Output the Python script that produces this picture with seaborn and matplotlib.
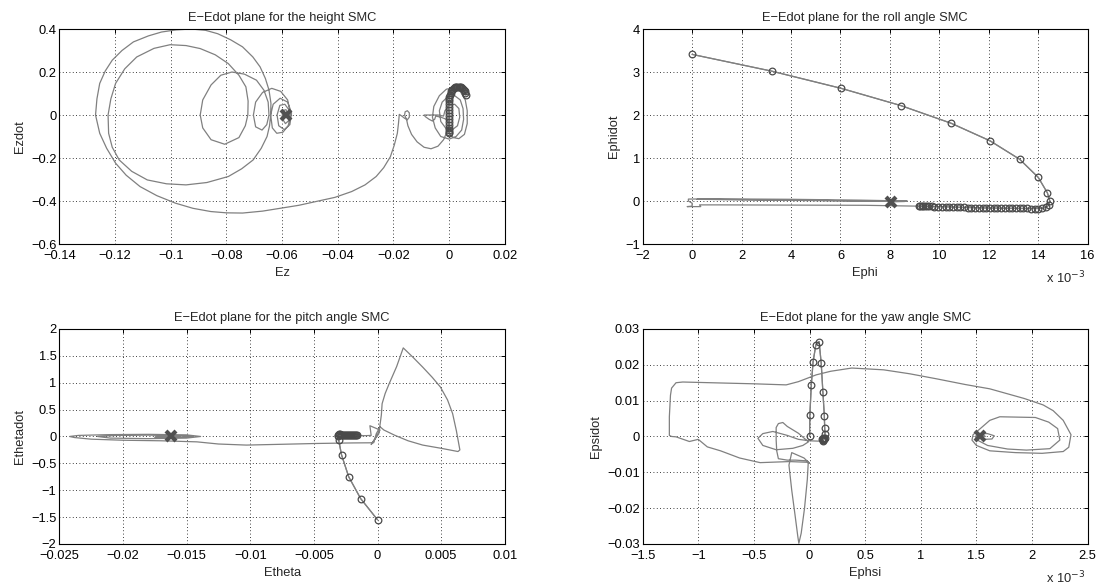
import matplotlib
matplotlib.use("Agg")
import matplotlib.pyplot as plt
import seaborn as sns

# ---------------- height SMC (Ez, Ezdot) ----------------
z_mark_e = [0.0060, 0.0058, 0.0056, 0.0053, 0.0050, 0.0046, 0.0042, 0.0038, 0.0034, 0.0030,
            0.0026, 0.0022, 0.0018, 0.0014, 0.0011, 0.0008, 0.0005, 0.0003, 0.0001, 0.0,
            -0.0001, -0.0002, -0.0002, -0.0001, 0.0, 0.0, 0.0, 0.0, 0.0, 0.0, 0.0, 0.0, 0.0]
z_mark_edot = [0.095, 0.103, 0.110, 0.116, 0.121, 0.125, 0.128, 0.130, 0.131, 0.131,
               0.130, 0.128, 0.125, 0.121, 0.116, 0.110, 0.103, 0.095, 0.086, 0.076,
               0.064, 0.050, 0.036, 0.022, 0.008, -0.006, -0.020, -0.034, -0.047, -0.059,
               -0.069, -0.078, -0.085]
z_e = [0.0015, 0.0035, 0.0055, 0.0065, 0.0065, 0.0058, 0.0040, 0.0015, -0.0010, -0.0035,
       -0.0055, -0.0060, -0.0050, -0.0030, 0.0, 0.0025, 0.0045, 0.0052, 0.0050, 0.0040,
       0.0020, -0.0005, -0.0025, -0.0035, -0.0030, -0.0010, 0.0010, 0.0030, 0.0038, 0.0035,
       0.0020, 0.0, -0.0015, -0.0020, -0.0040, -0.0090, -0.0085, -0.0072, -0.0060, -0.0052,
       -0.0048, -0.0030, -0.0010, 0.0, -0.0005, -0.0020, -0.0040, -0.0065, -0.0090, -0.0115,
       -0.0135, -0.0148, -0.0153, -0.0160, -0.0158, -0.0150, -0.0143, -0.0143, -0.0150, -0.0160,
       -0.0170, -0.0179,
       -0.0182, -0.0186, -0.0197, -0.0211, -0.0235, -0.0262, -0.0302, -0.0350, -0.0410, -0.0477,
       -0.0540, -0.0603, -0.0670, -0.0742, -0.0800, -0.0856, -0.0920, -0.0983, -0.1050, -0.1110,
       -0.1160, -0.1198, -0.1230, -0.1255, -0.1270, -0.1265, -0.1255, -0.1235, -0.1210, -0.1175,
       -0.1134, -0.1080, -0.1033, -0.0980, -0.0926, -0.0875, -0.0831, -0.0785, -0.0742, -0.0705,
       -0.0679, -0.0660, -0.0647, -0.0640, -0.0641, -0.0645, -0.0654, -0.0675, -0.0704, -0.0745,
       -0.0793, -0.0870, -0.0945, -0.1015, -0.1084, -0.1140, -0.1185, -0.1210, -0.1223, -0.1225,
       -0.1215, -0.1198, -0.1165, -0.1122, -0.1060, -0.1002, -0.0945, -0.0894, -0.0840, -0.0793,
       -0.0755, -0.0730, -0.0722, -0.0723, -0.0732, -0.0755, -0.0806, -0.0855, -0.0885, -0.0894,
       -0.0885, -0.0855, -0.0820, -0.0780, -0.0735, -0.0692, -0.0665, -0.0650, -0.0647, -0.0655,
       -0.0672, -0.0695, -0.0703, -0.0695, -0.0670, -0.0637, -0.0605, -0.0580, -0.0569, -0.0578,
       -0.0597, -0.0619, -0.0635, -0.0641, -0.0632, -0.0607, -0.0580, -0.0566, -0.0572, -0.0592,
       -0.0612, -0.0618, -0.0608, -0.0590, -0.0573, -0.0575, -0.0588, -0.0600, -0.0598, -0.0586,
       -0.0580, -0.0586]
z_edot = [-0.105, -0.110, -0.090, -0.040, 0.020, 0.070, 0.110, 0.126, 0.120, 0.090,
          0.040, -0.010, -0.060, -0.100, -0.112, -0.100, -0.070, -0.020, 0.030, 0.070,
          0.090, 0.085, 0.060, 0.020, -0.030, -0.065, -0.070, -0.050, -0.010, 0.030,
          0.050, 0.045, 0.020, -0.005, 0.0, 0.0, -0.008, -0.020, -0.028, -0.020,
          -0.005, -0.010, -0.020, -0.035, -0.070, -0.115, -0.145, -0.157, -0.150, -0.125,
          -0.090, -0.050, -0.020, 0.0, 0.015, 0.020, 0.010, -0.010, -0.022, -0.015,
          -0.005, 0.003,
          -0.040, -0.085, -0.140, -0.194, -0.245, -0.286, -0.325, -0.356, -0.383, -0.402,
          -0.420, -0.433, -0.447, -0.456, -0.455, -0.449, -0.434, -0.410, -0.375, -0.333,
          -0.280, -0.224, -0.155, -0.085, 0.0, 0.075, 0.147, 0.205, 0.255, 0.300,
          0.340, 0.368, 0.386, 0.396, 0.400, 0.394, 0.378, 0.350, 0.317, 0.270,
          0.224, 0.170, 0.116, 0.055, 0.0, -0.050, -0.100, -0.155, -0.209, -0.250,
          -0.286, -0.314, -0.325, -0.320, -0.302, -0.262, -0.209, -0.150, -0.085, 0.0,
          0.075, 0.147, 0.215, 0.270, 0.310, 0.327, 0.323, 0.309, 0.280, 0.239,
          0.185, 0.131, 0.065, 0.0, -0.050, -0.105, -0.136, -0.115, -0.060, 0.0,
          0.070, 0.140, 0.185, 0.200, 0.190, 0.162, 0.115, 0.060, 0.0, -0.045,
          -0.070, -0.055, 0.0, 0.060, 0.105, 0.124, 0.110, 0.070, 0.0, -0.050,
          -0.080, -0.085, -0.060, 0.0, 0.050, 0.078, 0.060, 0.010, -0.045, -0.068,
          -0.050, 0.0, 0.045, 0.050, 0.020, -0.025, -0.040, -0.015, 0.020, 0.025,
          0.005, 0.0]
z_end = (-0.0586, 0.0)
z_xticks = [-0.14, -0.12, -0.10, -0.08, -0.06, -0.04, -0.02, 0.0, 0.02]
z_xlabels = ["\u22120.14", "\u22120.12", "\u22120.1", "\u22120.08", "\u22120.06", "\u22120.04", "\u22120.02", "0", "0.02"]
z_yticks = [-0.6, -0.4, -0.2, 0.0, 0.2, 0.4]
z_ylabels = ["\u22120.6", "\u22120.4", "\u22120.2", "0", "0.2", "0.4"]

# ---------------- roll SMC (Ephi x1e-3, Ephidot) ----------------
phi_mark_e = [0.0, 3.22, 6.03, 8.44, 10.47, 12.05, 13.25, 14.0, 14.37, 14.47, 14.42, 14.30,
              14.15, 14.0, 13.85, 13.7, 13.55, 13.4, 13.25, 13.1, 12.95, 12.8, 12.65, 12.5,
              12.35, 12.2, 12.05, 11.9, 11.75, 11.6, 11.45, 11.3, 11.15, 11.0, 10.85, 10.7,
              10.55, 10.4, 10.25, 10.1, 9.95, 9.8, 9.7, 9.6, 9.5, 9.42, 9.35, 9.28, 9.22, 9.17]
phi_mark_edot = [3.41, 3.02, 2.62, 2.22, 1.81, 1.40, 0.97, 0.55, 0.19, 0.0, -0.10, -0.15,
                 -0.17, -0.175, -0.175, -0.175, -0.174, -0.173, -0.172, -0.171, -0.17, -0.169, -0.168, -0.167,
                 -0.166, -0.165, -0.164, -0.163, -0.161, -0.159, -0.157, -0.155, -0.152, -0.150, -0.147, -0.144,
                 -0.141, -0.138, -0.135, -0.132, -0.13, -0.128, -0.126, -0.125, -0.124, -0.123, -0.122, -0.121, -0.12, -0.12]
phi_e = [7.0, 4.0, 1.0, 0.3, 0.35, -0.2, 0.0, 0.0, -0.15, -0.15, 1.0, 4.0, 6.8, 8.7,
         7.0, 3.0, 0.2, 3.0, 6.8, 8.6, 8.05]
phi_edot = [-0.10, -0.095, -0.09, -0.09, -0.13, -0.13, -0.12, -0.05, 0.0, 0.045, 0.05, 0.04, 0.02, 0.0,
            0.0, 0.03, 0.04, 0.02, 0.0, -0.01, -0.02]
phi_end = (8.05, -0.02)
phi_xticks = [-2, 0, 2, 4, 6, 8, 10, 12, 14, 16]
phi_xlabels = ["\u22122", "0", "2", "4", "6", "8", "10", "12", "14", "16"]
phi_yticks = [-1, 0, 1, 2, 3, 4]
phi_ylabels = ["\u22121", "0", "1", "2", "3", "4"]

# ---------------- pitch SMC (Etheta, Ethetadot) ----------------
th_mark_e = [0.0, -0.00133, -0.00227, -0.00283, -0.00305, -0.00312, -0.00310,
             -0.00302, -0.00294, -0.00286, -0.00278, -0.00270, -0.00262, -0.00254, -0.00246,
             -0.00238, -0.00230, -0.00222, -0.00214, -0.00206, -0.00198, -0.00190, -0.00182,
             -0.00174, -0.00166, -0.00160]
th_mark_edot = [-1.55, -1.154, -0.747, -0.34, -0.068, 0.0, 0.03,
                0.04, 0.04, 0.035, 0.03, 0.03, 0.025, 0.025, 0.02,
                0.02, 0.02, 0.02, 0.02, 0.02, 0.02, 0.02, 0.02,
                0.02, 0.02, 0.02]
th_e = [-0.0010, -0.0005, -0.0006, 0.0002, -0.0001, -0.0005, -0.0002, 0.0001, 0.0003, 0.00036,
        0.0006, 0.00091, 0.0015, 0.00202, 0.0028, 0.00355, 0.0043, 0.00494, 0.0055, 0.0059,
        0.0062, 0.00647, 0.00632, 0.0050, 0.00355, 0.0024, 0.00133, 0.0005, 0.0002, -0.0001,
        -0.0003, -0.0020, -0.00477, -0.0075, -0.01031, -0.0125, -0.01419, -0.0170, -0.0200, -0.0225,
        -0.0238, -0.0242, -0.0235, -0.0210, -0.0180, -0.0150, -0.0139, -0.0150, -0.0180, -0.0210,
        -0.0220, -0.0205, -0.0180, -0.0155, -0.0145, -0.0155, -0.0175, -0.0172, -0.0160, -0.0155,
        -0.0162]
th_edot = [0.015, 0.02, 0.20, 0.12, 0.0, -0.15, -0.05, 0.05, 0.40, 0.61,
           0.80, 0.98, 1.30, 1.648, 1.47, 1.29, 1.10, 0.92, 0.68, 0.425,
           0.10, -0.25, -0.28, -0.22, -0.16, -0.08, 0.025, 0.12, 0.18, 0.05,
           -0.117, -0.12, -0.13, -0.145, -0.16, -0.14, -0.10, -0.08, -0.07, -0.05,
           -0.02, 0.0, 0.02, 0.035, 0.04, 0.03, 0.0, -0.03, -0.04, -0.03,
           0.0, 0.02, 0.025, 0.015, 0.0, -0.015, -0.015, 0.005, 0.008, 0.0,
           0.0]
th_end = (-0.0162, 0.0)
th_xticks = [-0.025, -0.02, -0.015, -0.01, -0.005, 0.0, 0.005, 0.01]
th_xlabels = ["\u22120.025", "\u22120.02", "\u22120.015", "\u22120.01", "\u22120.005", "0", "0.005", "0.01"]
th_yticks = [-2, -1.5, -1, -0.5, 0, 0.5, 1, 1.5, 2]
th_ylabels = ["\u22122", "\u22121.5", "\u22121", "\u22120.5", "0", "0.5", "1", "1.5", "2"]

# ---------------- yaw SMC (Ephsi x1e-3, Epsidot) ----------------
psi_mark_e = [0.0, 0.003, 0.016, 0.032, 0.057, 0.086, 0.105, 0.12, 0.133, 0.136, 0.139,
              0.135, 0.130, 0.125, 0.118, 0.112, 0.120, 0.128, 0.122]
psi_mark_edot = [0.0, 0.0061, 0.0144, 0.0209, 0.0256, 0.0265, 0.0204, 0.0124, 0.0058, 0.0025, 0.0006,
                 -0.0003, -0.0008, -0.0011, -0.0012, -0.0008, -0.0004, -0.0006, -0.0009]
psi_e = [0.08, 0.0, -0.10, -0.20, -0.33, -0.42, -0.464, -0.42, -0.30, -0.15,
         -0.06, -0.01, -0.10, -0.20, -0.24, -0.28, -0.30, -0.30, -0.295, -0.28,
         -0.20, -0.127, -0.02, 0.0, -0.05, -0.16, -0.185, -0.16, -0.13, -0.105,
         -0.096, -0.075, -0.045, -0.02, -0.012, -0.02, -0.18, -0.444, -0.629, -0.80,
         -0.919, -1.00, -1.08, -1.20, -1.24, -1.26, -1.26, -1.25, -1.24, -1.20,
         -1.14, -0.76, -0.50, -0.21, -0.10, 0.06, 0.19, 0.38, 0.666, 0.90,
         1.14, 1.40, 1.62, 1.93, 2.10, 2.19, 2.28, 2.35, 2.33, 2.28,
         2.09, 1.85, 1.62, 1.50, 1.46, 1.47, 1.52, 1.62, 1.71, 2.03,
         2.15, 2.23, 2.25, 2.16, 1.95, 1.78, 1.60, 1.52, 1.49, 1.52,
         1.60, 1.66, 1.64, 1.57, 1.50, 1.51, 1.56, 1.58, 1.528]
psi_edot = [-0.0013, -0.0012, -0.0008, 0.0003, 0.0014, 0.0008, -0.0005, -0.0025, -0.0037, -0.0033,
            -0.0025, -0.0015, 0.0009, 0.0028, 0.0039, 0.0036, 0.0025, -0.0010, -0.0040, -0.0062,
            -0.0066, -0.0066, -0.0068, -0.0075, -0.0060, -0.0045, -0.0080, -0.0150, -0.0220, -0.0280,
            -0.0298, -0.0270, -0.0200, -0.0120, -0.0075, -0.0072, -0.0070, -0.0073, -0.0060, -0.0040,
            -0.0029, -0.0008, -0.0014, -0.0001, 0.0, 0.0003, 0.0055, 0.0115, 0.0135, 0.0150,
            0.0152, 0.0149, 0.0147, 0.0144, 0.0153, 0.0172, 0.0182, 0.0191, 0.0186, 0.0175,
            0.0161, 0.0145, 0.0133, 0.0106, 0.0088, 0.0072, 0.0045, 0.0005, -0.0030, -0.0042,
            -0.0047, -0.0045, -0.0040, -0.0025, -0.0010, 0.0005, 0.0018, 0.0045, 0.0055, 0.0053,
            0.0040, 0.0022, -0.0010, -0.0034, -0.0038, -0.0035, -0.0025, -0.0012, 0.0, 0.0008,
            0.0008, 0.0002, -0.0007, -0.0008, -0.0003, 0.0004, 0.0005, 0.0, 0.0]
psi_end = (1.528, 0.0)
psi_xticks = [-1.5, -1, -0.5, 0, 0.5, 1, 1.5, 2, 2.5]
psi_xlabels = ["\u22121.5", "\u22121", "\u22120.5", "0", "0.5", "1", "1.5", "2", "2.5"]
psi_yticks = [-0.03, -0.02, -0.01, 0.0, 0.01, 0.02, 0.03]
psi_ylabels = ["\u22120.03", "\u22120.02", "\u22120.01", "0", "0.01", "0.02", "0.03"]

LINE = "#808080"
MARK = "#4a4a4a"
FS = 9.3

sns.set_style("white")
plt.rcParams["font.family"] = ["Liberation Sans", "DejaVu Sans"]
plt.rcParams["font.size"] = FS


def draw_panel(ax, me, med, e, ed, end, xt, xl, yt, yl, title, xlab, ylab, scale_note=False):
    # whole trajectory as a thin gray line
    sns.lineplot(x=me + e, y=med + ed, sort=False, estimator=None, color=LINE, lw=0.9, ax=ax)
    # reaching phase with open circles
    sns.lineplot(x=me, y=med, sort=False, estimator=None, color=LINE, lw=0.9,
                 marker="o", markersize=4.8, markerfacecolor="none",
                 markeredgecolor=MARK, markeredgewidth=0.9, ax=ax)
    # final point
    ax.plot([end[0]], [end[1]], marker="x", ms=7.5, mew=3, color="#505050", ls="")
    ax.set_xlim(xt[0], xt[-1])
    ax.set_ylim(yt[0], yt[-1])
    ax.set_xticks(xt)
    ax.set_xticklabels(xl)
    ax.set_yticks(yt)
    ax.set_yticklabels(yl)
    ax.grid(True, linestyle=(0, (1, 3)), color="black", lw=0.6)
    ax.set_axisbelow(True)
    ax.tick_params(direction="in", top=True, right=True, length=3, width=0.7,
                   labelsize=FS, pad=2, colors="black")
    ax.tick_params(axis="x", pad=4)
    for s in ax.spines.values():
        s.set_color("black")
        s.set_linewidth(0.8)
    ax.set_title(title, fontsize=FS, pad=6)
    ax.set_xlabel(xlab, fontsize=FS, labelpad=4)
    ax.set_ylabel(ylab, fontsize=FS, labelpad=4)
    if scale_note:
        ax.text(0.995, -0.185, "x 10$^{-3}$", transform=ax.transAxes, ha="right", va="baseline",
                fontsize=FS)


fig = plt.figure(figsize=(11.01, 5.86), dpi=100)
ax1 = fig.add_axes([0.0539, 0.5836, 0.4046, 0.3669])
ax2 = fig.add_axes([0.5837, 0.5836, 0.4042, 0.3669])
ax3 = fig.add_axes([0.0539, 0.0717, 0.4046, 0.3669])
ax4 = fig.add_axes([0.5837, 0.0717, 0.4042, 0.3669])

draw_panel(ax1, z_mark_e, z_mark_edot, z_e, z_edot, z_end, z_xticks, z_xlabels, z_yticks, z_ylabels,
           "E\u2212Edot plane for the height SMC", "Ez", "Ezdot")
draw_panel(ax2, phi_mark_e, phi_mark_edot, phi_e, phi_edot, phi_end, phi_xticks, phi_xlabels,
           phi_yticks, phi_ylabels, "E\u2212Edot plane for the roll angle SMC", "Ephi", "Ephidot", True)
draw_panel(ax3, th_mark_e, th_mark_edot, th_e, th_edot, th_end, th_xticks, th_xlabels, th_yticks,
           th_ylabels, "E\u2212Edot plane for the pitch angle SMC", "Etheta", "Ethetadot")
draw_panel(ax4, psi_mark_e, psi_mark_edot, psi_e, psi_edot, psi_end, psi_xticks, psi_xlabels,
           psi_yticks, psi_ylabels, "E\u2212Edot plane for the yaw angle SMC", "Ephsi", "Epsidot", True)

fig.savefig("out.png", dpi=100, facecolor="white")
